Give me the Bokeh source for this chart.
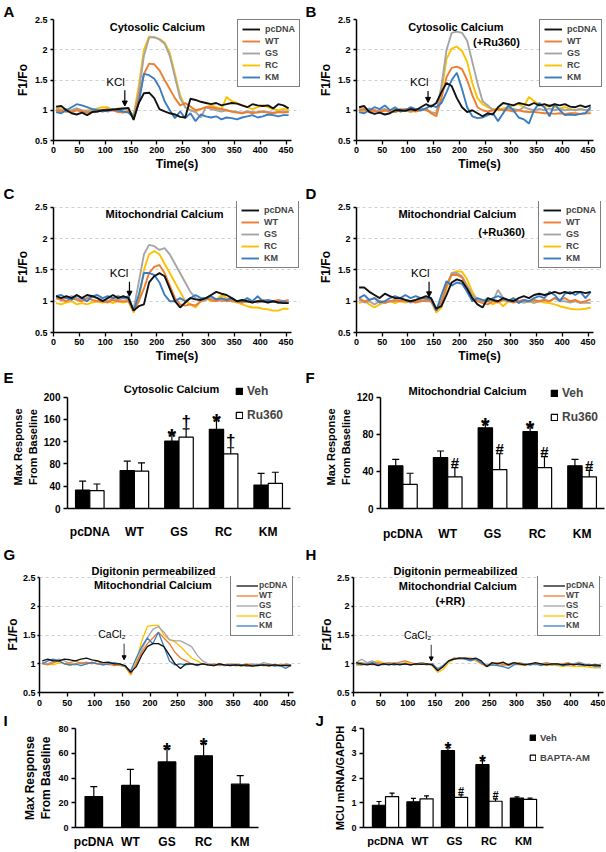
from bokeh.plotting import figure
from bokeh.models import (ColumnDataSource, Legend, LegendItem, Label, Arrow, Title,
                          NormalHead, Whisker, TeeHead, FactorRange, Range1d,
                          FixedTicker, NumeralTickFormatter)
from bokeh.transform import dodge
from bokeh.layouts import column, row
from bokeh.embed import file_html
from bokeh.resources import INLINE
from bokeh.core.properties import value

FONT = "Liberation Sans"
FONT_V = value(FONT)

# ---------------- data ----------------
TIME = [5, 15, 25, 35, 45, 55, 65, 75, 85, 95, 105, 115, 125, 135, 145, 155,
        165, 175, 185, 195, 205, 215, 225, 235, 245, 255, 265, 275, 285, 295,
        305, 315, 325, 335, 345, 355, 365, 375, 385, 395, 405, 415, 425, 435,
        445, 455]
SERIES = ["pcDNA", "WT", "GS", "RC", "KM"]
COLORS = {"pcDNA": "#111111", "WT": "#ED7D31", "GS": "#A5A5A5",
          "RC": "#FFC000", "KM": "#3B7DC3"}
DRAW_ORDER = ["RC", "GS", "WT", "KM", "pcDNA"]
X_TICKS = [0, 50, 100, 150, 200, 250, 300, 350, 400, 450]
Y_TICKS = [0.5, 1, 1.5, 2, 2.5]

# Panel A: cytosolic calcium
A_PCDNA = [1.06, 1.07, 1.00, 0.95, 0.93, 0.96, 0.92, 0.97, 0.98, 1.00, 1.00, 1.01, 1.02, 1.03, 1.04,
           0.84, 1.12, 1.28, 1.29, 1.20, 1.02, 0.98, 0.95, 0.93, 0.89,
           0.88, 1.19, 1.17, 1.14, 1.12, 1.10, 1.12, 1.08, 1.10, 1.12,
           1.11, 1.08, 1.05, 1.10, 1.08, 1.07, 1.08, 1.03, 1.10, 1.08, 1.03]
A_WT = [1.00, 0.98, 1.02, 0.97, 1.00, 0.98, 0.96, 0.97, 0.98, 1.00, 1.02, 1.00, 0.97, 0.96, 0.98,
        0.88, 1.20, 1.60, 1.77, 1.76, 1.66, 1.50, 1.35, 1.20, 1.08,
        1.12, 1.06, 1.00, 1.02, 1.05, 1.05, 1.03, 1.02, 1.00, 0.98,
        0.96, 0.95, 0.97, 0.95, 0.97, 0.98, 0.96, 0.95, 0.97, 0.96, 0.97]
A_GS = [1.02, 1.00, 0.98, 1.00, 1.03, 1.00, 0.98, 1.00, 1.01, 1.00, 0.98, 1.00, 1.02, 1.03, 1.00,
        0.90, 1.30, 1.90, 2.20, 2.21, 2.17, 2.10, 1.90, 1.55, 1.20,
        1.05, 1.00, 0.97, 0.88, 1.05, 1.02, 1.00, 0.98, 1.00, 0.98,
        0.97, 0.96, 0.98, 0.97, 0.96, 0.98, 0.97, 0.96, 0.97, 0.98, 0.97]
A_RC = [1.05, 1.02, 0.97, 1.00, 1.03, 0.98, 1.00, 1.00, 1.03, 1.05, 1.05, 1.00, 1.03, 1.02, 1.00,
        0.92, 1.40, 2.00, 2.22, 2.20, 2.18, 2.12, 1.95, 1.60, 1.25,
        1.05, 1.00, 0.98, 1.02, 1.05, 1.08, 1.05, 1.02, 1.22, 1.15,
        1.12, 1.08, 1.05, 1.02, 1.05, 1.08, 1.05, 1.02, 1.00, 1.02, 1.00]
A_KM = [0.97, 0.95, 1.00, 1.05, 1.10, 1.08, 1.05, 1.02, 1.00, 0.98, 1.00, 1.02, 1.00, 0.98, 0.96,
        0.88, 1.12, 1.60, 1.58, 1.52, 1.38, 1.15, 1.00, 0.87, 0.98,
        0.87, 0.95, 0.82, 0.93, 0.90, 0.88, 0.90, 0.85, 0.88, 0.87,
        0.85, 0.88, 0.90, 0.92, 0.88, 0.90, 0.93, 0.92, 0.90, 0.92, 0.92]

# Panel B: cytosolic calcium (+Ru360)
B_PCDNA = [1.05, 1.07, 0.97, 0.94, 0.96, 0.93, 0.95, 1.00, 1.00, 0.99, 1.02, 1.00, 1.05, 1.10, 1.06,
           1.12, 1.30, 1.45, 1.40, 1.20, 1.05, 0.97, 1.00, 0.95, 0.90,
           0.95, 0.93, 1.05, 1.12, 1.10, 1.08, 1.12, 1.10, 1.08, 1.12,
           1.08, 1.10, 1.07, 1.10, 1.08, 1.10, 1.06, 1.05, 1.08, 1.05, 1.08]
B_WT = [1.00, 1.02, 0.98, 1.00, 0.97, 1.00, 0.98, 0.97, 1.00, 1.02, 1.00, 0.98, 1.00, 1.02, 0.95,
        0.90, 1.20, 1.55, 1.70, 1.72, 1.68, 1.50, 1.25, 1.05, 1.00,
        0.98, 1.00, 1.02, 1.00, 1.00, 0.98, 1.00, 0.98, 0.97, 0.97,
        0.96, 0.95, 0.95, 0.94, 0.95, 0.94, 0.95, 0.95, 0.94, 0.95, 0.95]
B_GS = [1.02, 1.00, 1.03, 0.98, 1.00, 1.02, 0.98, 1.00, 1.02, 1.00, 0.98, 1.00, 1.02, 1.00, 0.97,
        0.95, 1.40, 2.00, 2.28, 2.30, 2.28, 2.15, 1.80, 1.45, 1.15,
        1.08, 1.00, 1.02, 1.00, 1.03, 1.02, 1.00, 1.05, 1.02, 1.00,
        1.02, 1.00, 1.03, 1.00, 1.02, 1.00, 1.01, 1.00, 1.02, 1.00, 1.00]
B_RC = [1.00, 0.98, 1.02, 1.00, 0.97, 0.99, 1.00, 1.02, 0.98, 1.00, 0.97, 0.99, 1.00, 1.03, 0.95,
        0.90, 1.30, 1.85, 2.02, 2.05, 1.98, 1.80, 1.45, 1.20, 1.10,
        1.05, 1.02, 1.00, 1.03, 1.05, 1.08, 1.10, 1.05, 1.22, 1.15,
        1.10, 1.05, 1.08, 1.05, 1.03, 1.05, 1.02, 1.00, 1.02, 1.00, 1.00]
B_KM = [0.97, 0.95, 1.00, 1.05, 1.02, 1.08, 1.00, 1.05, 0.98, 1.00, 1.05, 1.02, 1.00, 1.03, 1.08,
        1.05, 1.12, 1.30, 1.50, 1.62, 1.35, 1.05, 0.90, 0.87, 0.88,
        0.92, 0.95, 0.82, 0.95, 1.08, 1.00, 0.88, 0.85, 0.78, 1.00,
        1.12, 1.05, 0.90, 1.10, 1.00, 0.92, 0.93, 0.92, 0.94, 0.95, 1.05]

# Panel C: mitochondrial calcium
C_PCDNA = [1.08, 1.05, 1.08, 1.05, 1.10, 1.05, 1.10, 1.08, 1.05, 1.00, 1.05, 1.10, 1.05, 1.08, 1.05,
           0.85, 0.92, 0.95, 1.30, 1.40, 1.45, 1.40, 1.20, 1.00, 0.90,
           0.98, 1.05, 1.03, 1.02, 1.05, 1.10, 1.15, 1.12, 1.10, 1.05,
           1.00, 1.02, 1.00, 0.98, 1.00, 1.00, 0.98, 1.00, 0.98, 0.97, 0.97]
C_WT = [1.05, 1.02, 1.00, 1.05, 1.02, 1.00, 1.05, 1.02, 1.00, 1.00, 0.98, 1.02, 1.00, 1.00, 1.00,
        0.85, 1.00, 1.20, 1.45, 1.55, 1.58, 1.45, 1.25, 1.05, 0.95,
        0.93, 0.95, 0.93, 1.00, 1.05, 1.02, 1.00, 1.03, 1.00, 1.02,
        1.00, 0.98, 1.00, 0.98, 1.00, 1.02, 1.00, 1.00, 1.02, 1.00, 1.02]
C_GS = [1.05, 1.02, 1.05, 1.08, 1.05, 1.02, 1.05, 1.08, 1.05, 1.02, 1.00, 1.05, 1.02, 1.05, 1.02,
        0.87, 1.30, 1.75, 1.90, 1.88, 1.82, 1.85, 1.75, 1.60, 1.45,
        1.30, 1.15, 1.05, 1.00, 1.02, 1.05, 1.03, 1.00, 1.02, 1.00,
        1.00, 0.98, 1.00, 1.00, 0.98, 1.00, 0.98, 1.00, 0.98, 0.98, 0.98]
C_RC = [0.97, 0.95, 0.98, 1.00, 0.95, 0.97, 0.95, 0.98, 1.00, 0.98, 1.00, 0.97, 1.00, 0.98, 1.00,
        0.82, 1.00, 1.50, 1.75, 1.80, 1.75, 1.60, 1.45, 1.30, 1.15,
        1.00, 0.95, 0.90, 1.00, 1.05, 1.00, 1.02, 1.10, 1.05, 1.00,
        0.98, 0.95, 0.92, 0.90, 0.90, 0.88, 0.87, 0.85, 0.85, 0.88, 0.88]
C_KM = [1.08, 1.10, 1.05, 1.02, 1.10, 1.05, 1.00, 1.08, 1.10, 1.05, 1.08, 1.05, 1.08, 1.05, 1.08,
        0.85, 1.10, 1.45, 1.45, 1.42, 1.30, 1.10, 1.00, 1.00, 1.05,
        1.00, 1.05, 1.10, 1.05, 1.05, 1.08, 1.03, 1.05, 1.02, 1.05,
        1.00, 1.00, 1.05, 1.00, 1.08, 1.00, 1.02, 1.00, 0.98, 1.00, 0.97]

# Panel D: mitochondrial calcium (+Ru360)
D_PCDNA = [1.22, 1.22, 1.15, 1.10, 1.05, 1.12, 1.08, 1.05, 1.05, 1.02, 1.00, 1.02, 1.05, 1.08, 1.05,
           0.88, 0.92, 1.10, 1.30, 1.35, 1.32, 1.20, 1.05, 0.95, 0.90,
           1.05, 1.02, 1.00, 1.05, 1.02, 1.00, 1.05, 1.08, 1.05, 1.10,
           1.12, 1.10, 1.12, 1.15, 1.12, 1.15, 1.12, 1.15, 1.15, 1.13, 1.15]
D_WT = [1.05, 1.00, 1.02, 1.05, 1.00, 0.98, 1.00, 1.02, 1.00, 1.02, 1.00, 0.98, 1.00, 1.02, 1.00,
        0.85, 1.00, 1.25, 1.42, 1.42, 1.38, 1.20, 1.05, 1.00, 0.97,
        0.95, 1.00, 0.98, 1.02, 1.00, 0.98, 1.00, 1.02, 1.00, 1.02,
        1.00, 1.02, 1.00, 1.05, 1.02, 1.05, 1.00, 1.02, 0.98, 1.00, 1.03]
D_GS = [1.02, 0.98, 1.00, 0.95, 1.00, 0.97, 1.00, 1.00, 1.03, 1.00, 0.98, 1.00, 1.02, 1.00, 1.00,
        0.85, 0.95, 1.25, 1.45, 1.45, 1.40, 1.25, 1.10, 1.02, 1.00,
        1.05, 1.00, 1.18, 1.05, 1.00, 1.02, 1.00, 0.98, 1.00, 0.98,
        1.00, 1.02, 1.00, 1.05, 1.00, 1.00, 0.98, 1.00, 0.97, 0.98, 0.97]
D_RC = [0.97, 1.00, 0.95, 0.90, 0.95, 0.98, 1.00, 0.97, 1.00, 0.98, 1.00, 1.02, 1.00, 1.02, 1.00,
        0.82, 0.90, 1.20, 1.45, 1.48, 1.47, 1.35, 1.15, 1.02, 0.98,
        1.00, 0.95, 1.00, 0.92, 1.00, 1.05, 1.00, 0.98, 1.00, 0.97,
        1.00, 0.98, 0.97, 0.95, 0.92, 0.90, 0.88, 0.87, 0.87, 0.88, 0.90]
D_KM = [1.05, 1.10, 1.02, 1.05, 0.98, 1.00, 1.05, 1.08, 1.05, 1.10, 1.05, 1.08, 1.05, 1.05, 1.03,
        0.85, 1.10, 1.32, 1.25, 1.30, 1.28, 1.15, 1.00, 1.05, 1.02,
        1.00, 1.05, 1.08, 1.05, 1.00, 1.05, 0.97, 1.02, 1.00, 1.05,
        1.08, 1.05, 1.15, 1.10, 1.00, 1.12, 1.15, 1.10, 1.15, 1.05, 1.15]

# Panel G: digitonin permeabilized mitochondrial calcium
G_PCDNA = [1.05, 1.08, 1.05, 1.05, 1.08, 1.07, 1.05, 1.08, 1.10, 1.07, 1.05, 1.02, 1.03, 1.00, 1.00,
           0.97, 0.85, 0.95, 1.15, 1.30, 1.35, 1.35, 1.30, 1.15, 1.00,
           0.92, 1.00, 1.00, 0.98, 1.00, 0.98, 0.97, 1.00, 0.98, 0.97,
           0.98, 0.97, 0.98, 0.96, 0.97, 0.98, 0.97, 0.98, 0.97, 0.97, 0.97]
G_WT = [1.00, 0.98, 1.02, 1.05, 1.00, 1.02, 1.05, 1.00, 1.03, 1.00, 1.05, 0.98, 1.00, 0.97, 0.98,
        0.95, 0.82, 1.00, 1.20, 1.35, 1.45, 1.55, 1.45, 1.35, 1.20,
        1.10, 1.05, 1.00, 0.98, 1.00, 0.98, 1.00, 0.97, 0.98, 1.00,
        0.98, 0.97, 1.00, 0.98, 0.97, 0.98, 0.96, 0.98, 0.97, 0.98, 0.98]
G_GS = [1.03, 1.00, 1.05, 1.08, 1.05, 1.00, 0.98, 1.02, 1.00, 1.03, 1.00, 1.02, 0.98, 1.00, 0.98,
        0.95, 0.85, 1.00, 1.25, 1.45, 1.60, 1.65, 1.55, 1.42, 1.40,
        1.40, 1.35, 1.30, 1.15, 1.05, 1.00, 0.98, 1.00, 0.98, 0.97,
        1.00, 0.98, 0.97, 1.00, 0.98, 1.02, 1.00, 0.98, 0.97, 1.00, 0.98]
G_RC = [1.02, 1.00, 0.98, 1.02, 1.00, 0.97, 1.00, 1.03, 1.00, 1.02, 1.00, 1.02, 1.00, 0.98, 0.97,
        0.95, 0.80, 1.05, 1.40, 1.65, 1.67, 1.67, 1.50, 1.42, 1.38,
        1.30, 1.20, 1.10, 1.05, 1.00, 0.98, 0.97, 0.98, 0.97, 0.98,
        0.97, 0.96, 0.97, 0.95, 0.98, 0.97, 0.96, 0.98, 0.97, 0.98, 0.97]
G_KM = [1.00, 1.05, 1.08, 1.05, 1.00, 0.98, 1.00, 0.97, 1.00, 1.02, 1.00, 0.98, 1.00, 1.02, 1.00,
        0.95, 0.88, 1.10, 1.30, 1.45, 1.35, 1.55, 1.30, 1.05, 0.98,
        1.00, 0.98, 1.00, 0.97, 1.00, 0.98, 0.97, 1.00, 0.97, 0.98,
        0.97, 0.98, 0.96, 0.97, 0.98, 0.97, 0.98, 0.96, 0.97, 0.92, 0.97]

# Panel H: digitonin permeabilized mitochondrial calcium (+RR)
H_PCDNA = [1.02, 1.00, 0.98, 1.00, 0.97, 1.00, 0.98, 1.00, 0.98, 1.00, 0.98, 1.00, 0.99, 1.00, 0.98,
           0.88, 0.95, 1.05, 1.08, 1.10, 1.10, 1.08, 1.10, 1.05, 0.95,
           1.02, 1.00, 1.03, 0.98, 1.02, 1.00, 0.98, 1.00, 1.02, 1.00,
           0.98, 1.00, 1.00, 0.98, 1.00, 0.98, 1.00, 0.98, 0.97, 0.98, 0.97]
H_WT = [1.00, 1.02, 1.00, 0.98, 1.02, 1.00, 1.02, 1.00, 1.03, 1.05, 1.02, 1.00, 1.02, 1.00, 1.00,
        0.90, 0.95, 1.05, 1.10, 1.08, 1.10, 1.10, 1.08, 1.00, 0.97,
        1.00, 1.02, 1.00, 0.97, 1.00, 1.02, 1.00, 0.98, 1.00, 1.00,
        1.02, 1.00, 0.98, 1.00, 1.02, 0.98, 1.00, 0.97, 0.98, 0.97, 0.97]
H_GS = [1.02, 1.08, 1.02, 1.05, 1.00, 0.98, 1.00, 1.02, 1.00, 1.00, 0.98, 1.00, 1.02, 1.00, 0.98,
        0.92, 0.97, 1.05, 1.10, 1.10, 1.10, 1.08, 1.08, 1.02, 0.98,
        1.00, 1.02, 0.98, 1.00, 1.02, 1.00, 0.98, 1.00, 1.00, 0.98,
        1.00, 1.00, 0.98, 1.00, 0.98, 1.00, 1.03, 1.00, 0.98, 0.98, 0.97]
H_RC = [0.97, 0.98, 1.00, 1.03, 1.05, 1.02, 1.00, 0.98, 1.00, 1.02, 1.00, 0.98, 1.00, 1.00, 0.97,
        0.85, 0.90, 1.02, 1.08, 1.10, 1.08, 1.10, 1.05, 1.00, 0.95,
        0.98, 1.00, 0.97, 0.98, 1.00, 0.98, 0.97, 1.00, 0.98, 1.00,
        0.97, 0.98, 0.97, 0.95, 0.97, 0.95, 0.96, 0.95, 0.94, 0.93, 0.93]
H_KM = [1.00, 0.98, 1.00, 1.02, 0.98, 1.00, 1.00, 0.98, 1.00, 1.00, 0.98, 1.00, 1.00, 0.98, 1.00,
        0.90, 0.97, 1.05, 1.08, 1.10, 1.08, 1.05, 1.08, 1.02, 0.96,
        0.98, 0.97, 0.95, 0.92, 0.98, 1.00, 1.00, 0.98, 1.00, 0.97,
        1.00, 0.98, 1.00, 0.97, 0.98, 1.00, 0.98, 0.97, 0.98, 0.95, 0.95]

# Bar charts
CATS = ["pcDNA", "WT", "GS", "RC", "KM"]
E_VEH = [33, 68, 121, 142, 42]
E_VEH_ERR = [16, 17, 13, 19, 21]
E_VEH_MARK = ["", "", "*", "*", ""]
E_RU = [32, 67, 128, 98, 45]
E_RU_ERR = [12, 15, 15, 11, 20]
E_RU_MARK = ["", "", "\u2020", "\u2020", ""]

F_VEH = [46, 55, 87, 83, 46]
F_VEH_ERR = [7, 7, 6, 6, 7]
F_VEH_MARK = ["", "", "*", "*", ""]
F_RU = [26, 34, 42, 44, 34]
F_RU_ERR = [12, 10, 17, 12, 7]
F_RU_MARK = ["", "#", "#", "#", "#"]

I_VAL = [25, 34, 53, 58, 35]
I_ERR = [8, 13, 11, 10, 7]
I_MARK = ["", "", "*", "*", ""]

J_POS = [1, 2, 3, 4, 5]
J_VEH = [0.90, 1.04, 3.11, 2.54, 1.19]
J_VEH_ERR = [0.15, 0.14, 0.23, 0.26, 0.05]
J_VEH_MARK = ["", "", "*", "*", ""]
J_BAP = [1.25, 1.16, 1.22, 1.06, 1.14]
J_BAP_ERR = [0.14, 0.12, 0.10, 0.10, 0.05]
J_BAP_MARK = ["", "", "#", "#", ""]

WL = 303
WR = 302


# ---------------- helpers ----------------
def base_fig(w, h, bl, br, bt, bb, x_range, y_range):
    p = figure(width=w, height=h, x_range=x_range, y_range=y_range, title=None,
               output_backend="svg", toolbar_location=None,
               min_border_left=bl, min_border_right=br,
               min_border_top=bt, min_border_bottom=bb)
    p.outline_line_color = None
    p.xgrid.grid_line_color = None
    p.ygrid.grid_line_color = None
    for ax in (p.xaxis[0], p.yaxis[0]):
        ax.axis_line_color = "black"
        ax.axis_line_width = 1.5
        ax.major_tick_line_color = "black"
        ax.major_tick_line_width = 1.3
        ax.major_tick_in = 0
        ax.major_tick_out = 3
        ax.minor_tick_line_color = None
        ax.major_label_text_font = FONT
        ax.major_label_text_font_style = "bold"
        ax.major_label_text_color = "black"
        ax.major_label_standoff = 3
        ax.axis_label_text_font = FONT
        ax.axis_label_text_font_style = "bold"
        ax.axis_label_text_color = "black"
        ax.axis_label_standoff = 2
    return p


def add_title(p, text, offset, size="15px", bold=True):
    p.add_layout(Title(text=text, align="left", offset=offset, standoff=0,
                       text_font=FONT, text_font_size=size,
                       text_font_style="bold" if bold else "normal",
                       text_color="black"), "above")


def add_text(p, text, x, y, size="11px", bold=True, units="data"):
    p.add_layout(Label(x=x, y=y, x_units=units, y_units=units, text=text,
                       text_font=FONT, text_font_style="bold" if bold else "normal",
                       text_font_size=size, text_align="center",
                       text_baseline="middle", text_color="black"))


def line_panel(data, w, h, bl, br, bt, bb, xend, ytop, letter, lx, titles, stim, leg_xy,
               xlabel=True, thin=False, top_title=None):
    p = base_fig(w, h, bl, br, bt, bb, Range1d(0, xend), Range1d(0.5, ytop))
    p.ygrid.grid_line_color = "#cfcfcf"
    p.ygrid.grid_line_dash = "3 3"
    p.xaxis.ticker = FixedTicker(ticks=X_TICKS)
    p.xaxis.bounds = (0, 460)
    p.yaxis.ticker = FixedTicker(ticks=Y_TICKS)
    p.yaxis.bounds = (0.5, 2.5)
    p.yaxis.formatter = NumeralTickFormatter(format="0.[0]")
    p.xaxis.major_tick_out = 4
    p.xaxis.major_label_text_font_size = "9px"
    p.yaxis.major_label_text_font_size = "9px"
    p.yaxis.axis_label = "F1/Fo"
    p.yaxis.axis_label_text_font_size = "12px"
    if thin:
        p.yaxis.major_tick_out = 2
        p.yaxis.major_label_standoff = 2
        p.yaxis.axis_label_standoff = 0
    if xlabel:
        p.xaxis.axis_label = "Time(s)"
        p.xaxis.axis_label_text_font_size = "12px"
        p.xaxis.axis_label_standoff = 1
        p.xaxis.major_label_standoff = 2
    lw = 1.3 if thin else 1.9
    rends = {}
    for name in DRAW_ORDER:
        rends[name] = p.line(TIME, data[name], line_color=COLORS[name], line_width=lw)
    leg = Legend(items=[LegendItem(label=n, renderers=[rends[n]]) for n in SERIES],
                 location=leg_xy)
    leg.border_line_color = "black"
    leg.border_line_width = 1.5
    leg.background_fill_color = "white"
    leg.background_fill_alpha = 1.0
    leg.label_text_font = FONT
    leg.label_text_font_style = "bold"
    leg.margin = 0
    if thin:
        leg.label_text_font_size = "8.5px"
        leg.glyph_width = 22
        leg.glyph_height = 9
        leg.label_height = 9
        leg.label_standoff = 1
        leg.spacing = 0
        leg.padding = 5
    else:
        leg.label_text_font_size = "9px"
        leg.glyph_width = 18
        leg.glyph_height = 10
        leg.label_height = 10
        leg.label_standoff = 5
        leg.spacing = 2
        leg.padding = 4
    p.add_layout(leg)
    for (txt, x, y) in titles:
        add_text(p, txt, x, y, "11px", True)
    s_txt, tx, ty, ax, ay0, ay1 = stim
    add_text(p, s_txt, tx, ty, "10.5px" if thin else "11.5px", False)
    p.add_layout(Arrow(end=NormalHead(size=4 if thin else 5, fill_color="black",
                                      line_color="black", line_width=1),
                       x_start=ax, y_start=ay0, x_end=ax, y_end=ay1,
                       line_color="black", line_width=0.8 if thin else 1.2))
    if top_title is not None:
        add_title(p, top_title[0], top_title[1], "11px")
    add_title(p, letter, lx - bl)
    return p


def bar_panel(w, h, bl, br, bt, bb, x_range, xs, ymax, ytop, yticks, ylabel, ylabel_size,
              groups, legend_spec, letter, lx, cat_size="12px", head=7, tick_size="10px",
              cat_standoff=12):
    p = base_fig(w, h, bl, br, bt, bb, x_range, Range1d(0, ytop))
    p.yaxis.ticker = FixedTicker(ticks=yticks)
    p.yaxis.bounds = (0, ymax)
    p.yaxis.major_label_text_font_size = tick_size
    p.yaxis.major_tick_out = 4
    p.yaxis.axis_label = ylabel
    p.yaxis.axis_label_text_font_size = ylabel_size
    p.xaxis.major_tick_line_color = None
    p.xaxis.major_label_text_font_size = cat_size
    p.xaxis.major_label_standoff = cat_standoff
    rng = p.x_range if isinstance(p.x_range, FactorRange) else None
    rends = []
    for g in groups:
        vals, errs, marks, fill, off, width, mstyle = g
        hi = [v + e for v, e in zip(vals, errs)]
        lo = [v - e for v, e in zip(vals, errs)]
        src = ColumnDataSource(dict(x=xs, top=vals, hi=hi, lo=lo))
        r = p.vbar(x=dodge("x", off, range=rng), top="top", width=width, source=src,
                   fill_color=fill, line_color="black", line_width=1.2)
        rends.append(r)
        p.add_layout(Whisker(source=src, base=dodge("x", off, range=rng),
                             upper="hi", lower="lo", line_color="black", line_width=1.2,
                             upper_head=TeeHead(size=head, line_width=1.2, line_color="black"),
                             lower_head=TeeHead(size=head, line_width=1.2, line_color="black")))
        for sym, (size, yoff) in mstyle.items():
            sel = [i for i, m in enumerate(marks) if m == sym]
            if not sel:
                continue
            msrc = ColumnDataSource(dict(x=[xs[i] for i in sel], y=[hi[i] for i in sel],
                                         t=[marks[i] for i in sel]))
            p.text(x=dodge("x", off, range=rng), y="y", text="t", source=msrc,
                   text_font=FONT_V, text_font_style="bold", text_font_size=size,
                   text_align="center", text_baseline="alphabetic", y_offset=yoff,
                   text_color="black")
    if legend_spec is not None:
        labels, loc, fsize, gsize, lheight, spacing = legend_spec
        leg = Legend(items=[LegendItem(label=l, renderers=[r]) for l, r in zip(labels, rends)],
                     location=loc)
        leg.border_line_color = None
        leg.background_fill_alpha = 0
        leg.label_text_font = FONT
        leg.label_text_font_style = "bold"
        leg.label_text_font_size = fsize
        leg.glyph_width = gsize
        leg.glyph_height = gsize
        leg.label_height = lheight
        leg.spacing = spacing
        leg.padding = 0
        leg.margin = 0
        leg.label_standoff = 4
        p.add_layout(leg)
    add_title(p, letter, lx - bl)
    return p


def series_dict(*arrs):
    return dict(zip(SERIES, arrs))


# ---------------- panels ----------------
pA = line_panel(series_dict(A_PCDNA, A_WT, A_GS, A_RC, A_KM), WL, 173, 53, 3, 17, 33, 478, 2.5,
                "A", 3, [("Cytosolic Calcium", 201, 2.38)],
                ("KCl", 120, 1.47, 138, 1.33, 1.07), (184, 53))
pB = line_panel(series_dict(B_PCDNA, B_WT, B_GS, B_RC, B_KM), WR, 173, 53, 3, 17, 33, 478, 2.5,
                "B", 2, [("Cytosolic Calcium", 193, 2.38), ("(+Ru360)", 272, 2.13)],
                ("KCl", 122, 1.46, 139, 1.32, 1.13), (183, 53))
pC = line_panel(series_dict(C_PCDNA, C_WT, C_GS, C_RC, C_KM), WL, 192, 53, 3, 28, 31, 478, 2.594,
                "C", 3, [("Mitochondrial Calcium", 215, 2.40)],
                ("KCl", 127, 1.45, 147, 1.31, 1.08), (183, 64))
pD = line_panel(series_dict(D_PCDNA, D_WT, D_GS, D_RC, D_KM), WR, 192, 53, 3, 28, 31, 478, 2.594,
                "D", 2, [("Mitochondrial Calcium", 196, 2.40), ("(+Ru360)", 282, 2.10)],
                ("KCl", 124, 1.45, 141, 1.31, 1.07), (182, 64))

pE = bar_panel(WL, 178, 67, 13, 20, 30, FactorRange(factors=CATS), CATS, 200, 220.7,
               [0, 40, 80, 120, 160, 200], "Max Response\nFrom Baseline", "11px",
               [(E_VEH, E_VEH_ERR, E_VEH_MARK, "black", -0.16, 0.32, {"*": ("22px", 3)}),
                (E_RU, E_RU_ERR, E_RU_MARK, "white", 0.16, 0.32, {"\u2020": ("17px", -7)})],
               (["Veh", "Ru360"], (168, 86), "12px", 8, 12, 10), "E", 3, cat_standoff=13)
add_text(pE, "Cytosolic Calcium", 104, 120, units="screen")
pF = bar_panel(WR, 178, 77, 1, 20, 32, FactorRange(factors=CATS), CATS, 120, 132.6,
               [0, 40, 80, 120], "Max Response\nFrom Baseline", "11px",
               [(F_VEH, F_VEH_ERR, F_VEH_MARK, "black", -0.16, 0.32, {"*": ("22px", 3)}),
                (F_RU, F_RU_ERR, F_RU_MARK, "white", 0.16, 0.32, {"#": ("15px", -5)})],
               (["Veh", "Ru360"], (170, 84), "12px", 8, 12, 10), "F", 2, cat_standoff=15)
add_text(pF, "Mitochondrial Calcium", 87, 118, units="screen")

pG = line_panel(series_dict(G_PCDNA, G_WT, G_GS, G_RC, G_KM), WL, 166, 39, 3, 33, 17, 472, 2.52,
                "G", 3, [("Mitochondrial Calcium", 205, 2.37)],
                ("CaCl\u2082", 131, 1.52, 153, 1.35, 1.07), (191, 56),
                xlabel=False, thin=True, top_title=("Digitonin permeabilized", 52))
pH = line_panel(series_dict(H_PCDNA, H_WT, H_GS, H_RC, H_KM), WR, 166, 50, 2, 33, 17, 460, 2.52,
                "H", 2, [("Mitochondrial Calcium", 192, 2.35), ("(+RR)", 178, 2.10)],
                ("CaCl\u2082", 118, 1.5, 143, 1.33, 1.05), (184, 56),
                xlabel=False, thin=True, top_title=("Digitonin permeabilized", 40))

pI = bar_panel(WL, 142, 75, 45, 17, 18, FactorRange(factors=CATS), CATS, 80, 80,
               [0, 20, 40, 60, 80], "Max Response\nFrom Baseline", "12px",
               [(I_VAL, I_ERR, I_MARK, "black", 0.0, 0.48, {"*": ("20px", 2)})],
               None, "I", 3, tick_size="9px", cat_standoff=4)
pJ = bar_panel(WR, 142, 60, 2, 17, 18, Range1d(0.362, 7.32), J_POS, 4, 4,
               [0, 1, 2, 3, 4], "MCU mRNA/GAPDH", "11px",
               [(J_VEH, J_VEH_ERR, J_VEH_MARK, "black", -0.19, 0.38, {"*": ("18px", 4)}),
                (J_BAP, J_BAP_ERR, J_BAP_MARK, "white", 0.19, 0.38, {"#": ("11px", -4)})],
               (["Veh", "BAPTA-AM"], (166, 64), "9.5px", 7, 11, 9), "J", 12,
               cat_size="11px", head=5, tick_size="9px", cat_standoff=4)
pJ.xaxis.ticker = FixedTicker(ticks=J_POS)
pJ.xaxis.bounds = (0.36, 5.58)
pJ.xaxis.major_label_overrides = {pos: cat for pos, cat in zip(J_POS, CATS)}

layout = column(row(pA, pB), row(pC, pD), row(pE, pF), row(pG, pH), row(pI, pJ))

open("out.html", "w").write(file_html(layout, INLINE))
